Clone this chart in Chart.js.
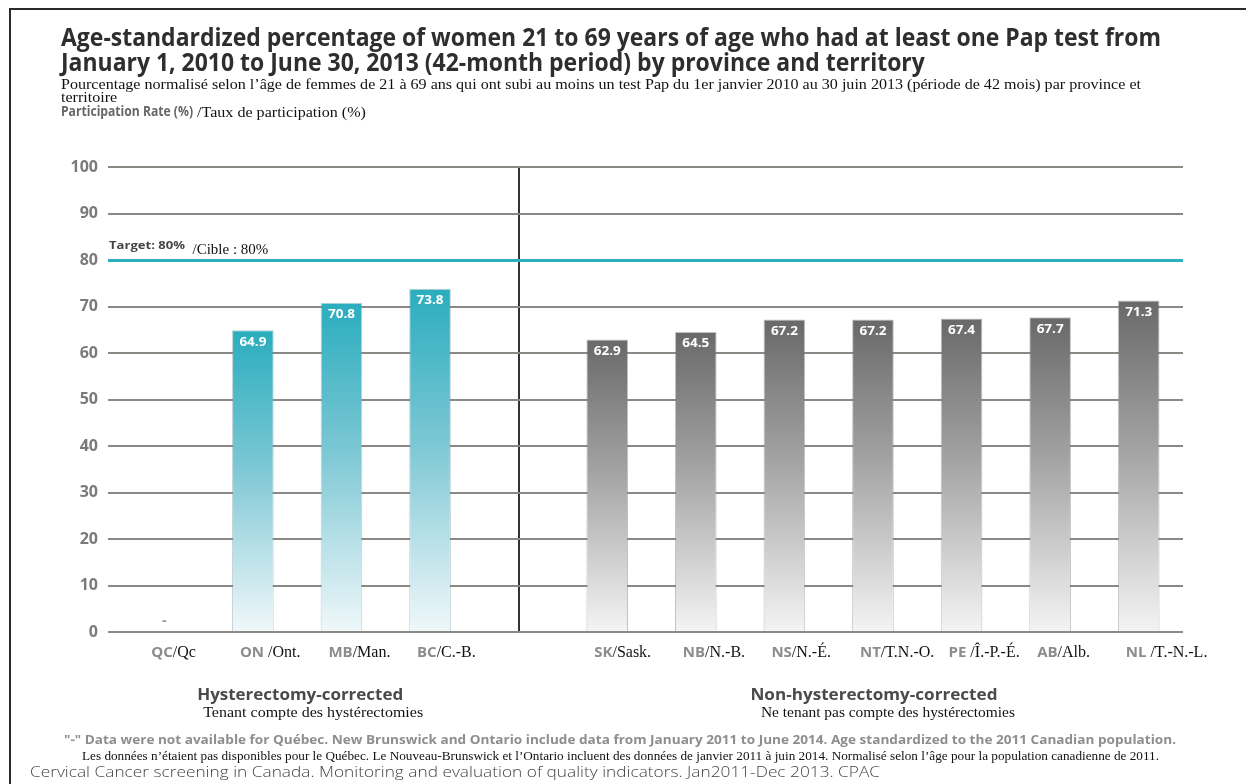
<!DOCTYPE html>
<html>
<head>
<meta charset="utf-8">
<script src="https://cdn.jsdelivr.net/npm/chart.js@4.4.1/dist/chart.umd.min.js"></script>
<style>
  html, body { margin: 0; padding: 0; background: #fff; }
  canvas { display: block; }
</style>
</head>
<body>
<canvas id="papChart" width="1246" height="784"></canvas>
<script>
// province / territory codes, "" is the empty slot between the two groups
const codes = ["QC", "ON", "MB", "BC", "", "SK", "NB", "NS", "NT", "PE", "AB", "NL"];
const frenchCodes = ["/Qc", " /Ont.", "/Man.", "/C.-B.", "", "/Sask.", "/N.-B.", "/N.-É.", "/T.N.-O.", " /Î.-P.-É.", "/Alb.", " /T.-N.-L."];
// participation rate (%), null = no data
const rates = [null, 64.9, 70.8, 73.8, null, 62.9, 64.5, 67.2, 67.2, 67.4, 67.7, 71.3];
const correctedCodes = ["QC", "ON", "MB", "BC"];
const nonCorrectedCodes = ["SK", "NB", "NS", "NT", "PE", "AB", "NL"];
const missingCodes = ["QC"];
const targetRate = 80;

const titleLines = [
  "Age-standardized percentage of women 21 to 69 years of age who had at least one Pap test from",
  "January 1, 2010 to June 30, 2013 (42-month period) by province and territory",
];
const frenchTitleLines = [
  "Pourcentage normalisé selon l’âge de femmes de 21 à 69 ans qui ont subi au moins un test Pap du 1er janvier 2010 au 30 juin 2013 (période de 42 mois) par province et",
  "territoire",
];
const yTitle = ["Participation Rate (%)", " /Taux de participation (%)"];
const targetLabel = ["Target: 80%", "  /Cible : 80%"];
const groupLabels = {
  corrected: ["Hysterectomy-corrected", "Tenant compte des hystérectomies"],
  nonCorrected: ["Non-hysterectomy-corrected", "Ne tenant pas compte des hystérectomies"],
};
const footnotes = [
  "\"-\" Data were not available for Québec. New Brunswick and Ontario include data from January 2011 to June 2014. Age standardized to the 2011 Canadian population.",
  "Les données n’étaient pas disponibles pour le Québec. Le Nouveau-Brunswick et l’Ontario incluent des données de janvier 2011 à juin 2014. Normalisé selon l’âge pour la population canadienne de 2011.",
];
const sourceText = "Cervical Cancer screening in Canada. Monitoring and evaluation of quality indicators. Jan2011-Dec 2013. CPAC";

const SANS = "'Open Sans', 'DejaVu Sans', sans-serif";
const SERIF = "'Liberation Serif', 'DejaVu Serif', serif";
const TEAL = "#2cb0c1";

// draws text, optionally squeezed/stretched to a given width; returns drawn width
function drawText(ctx, text, x, y, font, color, opts = {}) {
  ctx.save();
  ctx.font = font;
  ctx.fillStyle = color;
  ctx.textBaseline = "middle";
  ctx.textAlign = "left";
  const w = ctx.measureText(text).width;
  const sx = opts.scale || (opts.width ? opts.width / w : 1);
  let left = x;
  if (opts.align === "center") left = x - (w * sx) / 2;
  if (opts.align === "right") left = x - w * sx;
  ctx.translate(left, y);
  ctx.scale(sx, 1);
  ctx.fillText(text, 0, 0);
  ctx.restore();
  return w * sx;
}

function measure(ctx, text, font) {
  ctx.save();
  ctx.font = font;
  const w = ctx.measureText(text).width;
  ctx.restore();
  return w;
}

function isCorrected(i) {
  return correctedCodes.includes(codes[i]);
}

function barFill(context) {
  const chart = context.chart;
  const area = chart.chartArea;
  const teal = isCorrected(context.dataIndex);
  if (!area) return teal ? TEAL : "#707070";
  const top = chart.scales.y.getPixelForValue(context.raw || 0);
  const g = chart.ctx.createLinearGradient(0, top, 0, area.bottom);
  if (teal) {
    g.addColorStop(0, "#2aadbe");
    g.addColorStop(0.45, "#7cc7d4");
    g.addColorStop(1, "#f0f8fa");
  } else {
    g.addColorStop(0, "#696969");
    g.addColorStop(0.45, "#a3a3a3");
    g.addColorStop(1, "#f4f4f4");
  }
  return g;
}

const framePlugin = {
  id: "frame",
  beforeDraw(chart) {
    const ctx = chart.ctx;
    ctx.save();
    ctx.fillStyle = "#fff";
    ctx.fillRect(0, 0, chart.width, chart.height);
    ctx.strokeStyle = "#2a2a2a";
    ctx.lineWidth = 2;
    ctx.beginPath();
    ctx.moveTo(10, chart.height);
    ctx.lineTo(10, 9);
    ctx.lineTo(chart.width, 9);
    ctx.stroke();
    ctx.restore();
  },
};

const textPlugin = {
  id: "texts",
  afterDraw(chart) {
    const ctx = chart.ctx;
    const x = chart.scales.x;
    const y = chart.scales.y;
    const meta = chart.getDatasetMeta(0);

    // titles
    const tFont = `bold 25px ${SANS}`;
    const tScale = 1100 / measure(ctx, titleLines[0], tFont);
    drawText(ctx, titleLines[0], 61, 39, tFont, "#2e2e2e", { scale: tScale });
    drawText(ctx, titleLines[1], 61, 64, tFont, "#2e2e2e", { scale: tScale });
    const fFont = `14px ${SERIF}`;
    const fScale = 1080 / measure(ctx, frenchTitleLines[0], fFont);
    drawText(ctx, frenchTitleLines[0], 61, 85, fFont, "#111", { scale: fScale });
    drawText(ctx, frenchTitleLines[1], 61, 98, fFont, "#111", { scale: fScale });
    const w1 = drawText(ctx, yTitle[0], 61, 112, `bold 15px ${SANS}`, "#666", { width: 132 });
    drawText(ctx, yTitle[1], 61 + w1, 113, `14px ${SERIF}`, "#111", { scale: fScale });

    // target label
    const t80 = y.getPixelForValue(targetRate);
    const tw = drawText(ctx, targetLabel[0], 109, t80 - 14, `bold 11px ${SANS}`, "#444", { width: 76 });
    drawText(ctx, targetLabel[1], 109 + tw, t80 - 10, `15px ${SERIF}`, "#111");

    // values on bars
    meta.data.forEach((bar, i) => {
      if (rates[i] == null) return;
      drawText(ctx, rates[i].toFixed(1), bar.x, bar.y + 12, `bold 12px ${SANS}`, "#fff", { align: "center", width: 27 });
    });
    // missing data marker
    missingCodes.forEach((c) => {
      const i = codes.indexOf(c);
      drawText(ctx, "-", x.getPixelForValue(i), y.getPixelForValue(0) - 11, `bold 14px ${SANS}`, "#999", { align: "center" });
    });

    // category labels
    codes.forEach((c, i) => {
      if (!c) return;
      const cx = x.getPixelForValue(i) - 13;
      const ly = y.bottom + 21;
      const w = drawText(ctx, c, cx, ly, `bold 15px ${SANS}`, "#8c8c8c");
      drawText(ctx, frenchCodes[i], cx + w, ly, `16px ${SERIF}`, "#111");
    });

    // group labels
    const groupCenter = (list) =>
      (x.getPixelForValue(codes.indexOf(list[0])) + x.getPixelForValue(codes.indexOf(list[list.length - 1]))) / 2;
    const gc1 = groupCenter(correctedCodes);
    const gc2 = groupCenter(nonCorrectedCodes);
    drawText(ctx, groupLabels.corrected[0], gc1 + 3, 695, `bold 16px ${SANS}`, "#4a4a4a", { align: "center", width: 206 });
    drawText(ctx, groupLabels.corrected[1], gc1 + 16, 713, `15px ${SERIF}`, "#111", { align: "center", width: 220 });
    drawText(ctx, groupLabels.nonCorrected[0], gc2 + 1, 695, `bold 16px ${SANS}`, "#4a4a4a", { align: "center", width: 247 });
    drawText(ctx, groupLabels.nonCorrected[1], gc2 + 15, 713, `15px ${SERIF}`, "#111", { align: "center", width: 254 });

    // footnotes and source
    drawText(ctx, footnotes[0], 64, 741, `bold 12px ${SANS}`, "#8e8e8e", { width: 1112 });
    drawText(ctx, footnotes[1], 82, 757, `12px ${SERIF}`, "#111", { width: 1077 });
    drawText(ctx, sourceText, 30, 773, `300 15px ${SANS}`, "#444", { width: 850 });
  },
};

new Chart(document.getElementById("papChart"), {
  type: "bar",
  data: {
    labels: codes,
    datasets: [
      {
        data: rates,
        backgroundColor: barFill,
        borderColor: (c) => (isCorrected(c.dataIndex) ? "rgba(110,150,160,0.45)" : "rgba(120,120,120,0.45)"),
        borderWidth: 1,
        borderSkipped: "bottom",
        barPercentage: 0.47,
        categoryPercentage: 1,
      },
    ],
  },
  options: {
    responsive: false,
    animation: false,
    layout: { padding: { left: 0, right: 63, top: 167, bottom: 152 } },
    plugins: { legend: { display: false }, tooltip: { enabled: false } },
    scales: {
      x: {
        offset: true,
        border: { display: false },
        grid: {
          offset: false,
          drawTicks: false,
          color: (c) => (c.index === codes.indexOf("") ? "#333" : "rgba(0,0,0,0)"),
          lineWidth: 2,
        },
        ticks: { display: false },
        afterFit: (s) => { s.height = 0; },
      },
      y: {
        min: 0,
        max: 100,
        border: { display: false },
        grid: {
          color: (c) => (c.tick && c.tick.value === targetRate ? TEAL : "#8c8884"),
          lineWidth: (c) => (c.tick && c.tick.value === targetRate ? 3 : 2),
          tickLength: 12,
        },
        ticks: {
          stepSize: 10,
          padding: 10,
          color: "#7a7a7a",
          font: { family: "'Open Sans'", weight: "bold", size: 16 },
        },
        afterFit: (s) => { s.width = 120; },
      },
    },
  },
  plugins: [framePlugin, textPlugin],
});
</script>
</body>
</html>
